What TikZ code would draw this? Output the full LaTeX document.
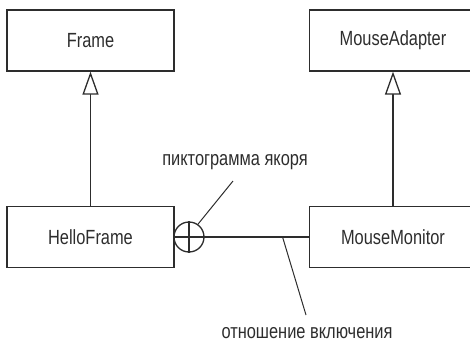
\documentclass[tikz,border=0pt]{standalone}
\usepackage{fontspec}
\setmainfont[FakeStretch=0.8]{Liberation Sans}
\usetikzlibrary{calc,positioning,arrows.meta}
\definecolor{umlline}{RGB}{45,45,45}

\begin{document}
\begin{tikzpicture}[x=1pt,y=-1pt,
  every node/.style={font=\fontsize{20.5}{23}\selectfont,text=umlline},
  cls/.style={draw=umlline,line width=1.3pt,minimum width=167pt,minimum height=61pt,inner sep=0pt},
  inherit/.style={line width=1.3pt,umlline,-{Triangle[open,length=23pt,width=16pt,fill=white]}},
  link/.style={line width=1.3pt,umlline},
  note/.style={line width=1pt,umlline}]
\useasboundingbox (0,0) rectangle (470,343);

\node[cls] (frame) at (90.5,40.5) {Frame};
\node[cls] (adapter) at (393,40.5) {MouseAdapter};
\node[cls] (hello) at (90.5,237) {HelloFrame};
\node[cls] (monitor) at (393,237) {MouseMonitor};

\draw[inherit] (hello) -- (frame);
\draw[inherit] (monitor) -- (adapter);

% anchor icon and containment link
\node[draw=umlline,line width=1.3pt,circle,minimum size=30pt,inner sep=0pt] (anchor) at (189,237) {};
\draw[link] (anchor.north) -- (anchor.south);
\draw[link] (hello.east) -- coordinate[pos=0.804] (linkpt) (monitor.west);

% callouts
\node (anchorlbl) at (235,162) {пиктограмма якоря};
\coordinate (anchortip) at (233,181);
\draw[note] (anchor.55) -- (anchortip);
\node (linklbl) at (307,333) {отношение включения};
\coordinate (linktip) at (306,315);
\draw[note] (linkpt) -- (linktip);
\end{tikzpicture}
\end{document}
